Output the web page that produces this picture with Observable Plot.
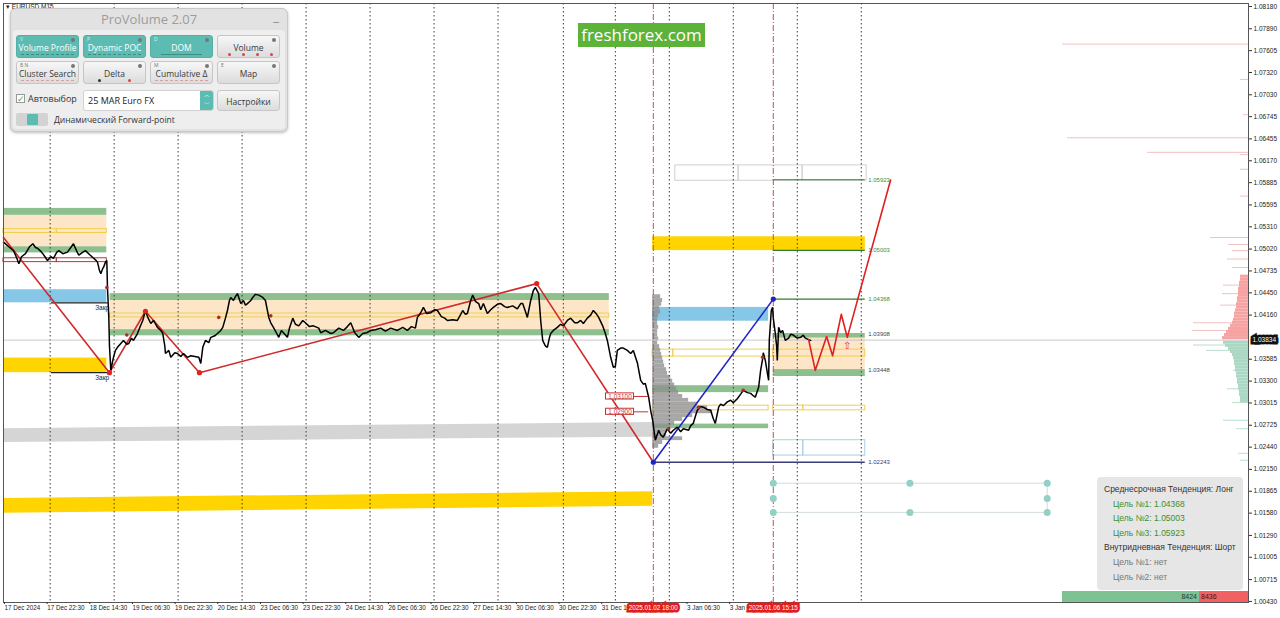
<!DOCTYPE html>
<html>
<head>
<meta charset="utf-8">
<script src="https://cdn.jsdelivr.net/npm/d3@7"></script>
<script src="https://cdn.jsdelivr.net/npm/@observablehq/plot@0.6"></script>
<style>
html,body{margin:0;padding:0;background:#fff;}
body{width:1280px;height:618px;overflow:hidden;font-family:"Liberation Sans",Arial,sans-serif;}
#wrap{position:relative;width:1280px;height:618px;}
#chart{position:absolute;left:0;top:0;}
#chart svg{display:block;}
.ov{position:absolute;box-sizing:border-box;}
#sym{left:6px;top:3px;font-size:6.5px;color:#222;white-space:nowrap;}
#logo{left:578px;top:23px;width:127px;height:24px;background:#5db23a;color:#fff;font:17px "Open Sans",sans-serif;text-align:center;line-height:24px;}
#pv{left:10px;top:8px;width:278px;height:124px;background:#e2e2e2;border:1px solid #c9c9c9;border-radius:6px;box-shadow:0 1px 3px rgba(0,0,0,.25);}
#pv .in{position:absolute;left:2px;top:21px;right:2px;bottom:2px;background:#eeeeee;border-radius:4px;}
#pv .ttl{position:absolute;left:0;right:0;top:1px;text-align:center;font:13px "Open Sans",sans-serif;color:#9c9c9c;}
#pv .min{position:absolute;right:8px;top:-2px;font:13px "Open Sans",sans-serif;color:#888;}
.b{position:absolute;width:63px;height:23px;border-radius:3px;font:8.5px "Open Sans",sans-serif;text-align:center;line-height:23px;color:#3a3a3a;background:linear-gradient(#f7f7f7,#dcdcdc);border:1px solid #c6c6c6;box-sizing:border-box;}
.b.t{background:#5cbcb2;color:#fff;border-color:#55afa5;}
.b .k{position:absolute;left:3px;top:0px;font-size:5px;line-height:6px;color:#777;}
.b.t .k{color:#d8f0ee;}
.b .g{position:absolute;right:3px;top:2px;width:4px;height:4px;border-radius:50%;background:#777;}
.b .u{position:absolute;left:4px;right:4px;bottom:2px;height:0;border-bottom:1px dashed #3f8c84;}
.b .ur{position:absolute;left:4px;right:4px;bottom:2px;height:0;border-bottom:1px dashed #d9a0a0;}
.b .d{position:absolute;bottom:1px;width:3px;height:3px;border-radius:50%;background:#d04a4a;}
#chk{left:5px;top:85px;width:9px;height:9px;background:#fff;border:1px solid #999;font-size:9px;line-height:8px;color:#3aa39a;text-align:center;}
#auto{left:17px;top:83px;font:9px "Open Sans",sans-serif;color:#333;}
#inp{left:72px;top:81px;width:131px;height:21px;background:#fff;border:1px solid #d2d2d2;border-radius:3px;font:9px "Open Sans",sans-serif;line-height:20px;padding-left:4px;color:#222;}
#spin{right:0;top:0;width:13px;height:19px;background:#5cbcb2;border-radius:0 2px 2px 0;color:#fff;font-size:6px;line-height:9px;text-align:center;}
#set{top:81px;left:206px;height:21px;line-height:21px;}
#tog{left:5px;top:104px;width:32px;height:13px;background:#d3d3d3;border-radius:2px;}
#tog div{position:absolute;left:11px;top:1px;width:11px;height:11px;background:#5cbcb2;border-radius:1px;}
#fwd{left:43px;top:104px;font:8.5px "Open Sans",sans-serif;color:#333;line-height:13px;}
#info{left:1097px;top:477px;width:146px;height:113px;background:#e6e6e6;border-radius:4px;font:8.5px "Liberation Sans",Arial,sans-serif;padding-top:5px;}
#info div{height:14.6px;line-height:14.6px;white-space:nowrap;}
#info .h{padding-left:7px;color:#333;}
#info .g{padding-left:16px;color:#3d8f2c;}
#info .n{padding-left:16px;color:#777;}
#ratio{left:1062px;top:591px;width:186px;height:11px;font:7px "Liberation Sans",Arial,sans-serif;line-height:11px;}
#ratio .gb{position:absolute;left:0;top:0;width:137px;height:11px;background:#7cc293;text-align:right;color:#333;padding-right:2px;box-sizing:border-box;}
#ratio .rb{position:absolute;left:137px;top:0;width:49px;height:11px;background:#f26161;color:#4a1212;padding-left:2px;box-sizing:border-box;}
</style>
</head>
<body>
<div id="wrap">
<div id="chart"></div>
<div class="ov" id="sym">▾ EURUSD,M15</div>
<div class="ov" id="logo">freshforex.com</div>
<div class="ov" id="pv">
  <div class="in"></div>
  <div class="ttl">ProVolume 2.07</div>
  <div class="min">_</div>
  <div class="b t" style="left:5px;top:26px"><span class="k">V</span><span class="g"></span>Volume Profile<span class="u"></span></div>
  <div class="b t" style="left:72px;top:26px"><span class="k">P</span><span class="g"></span>Dynamic POC<span class="u"></span></div>
  <div class="b t" style="left:139px;top:26px"><span class="k">D</span><span class="g"></span>DOM<span class="u" style="border-bottom-style:solid;left:10px;right:10px"></span></div>
  <div class="b" style="left:206px;top:26px"><span class="g"></span>Volume<span class="d" style="left:10px"></span><span class="d" style="left:24px"></span><span class="d" style="left:38px"></span><span class="d" style="left:52px"></span></div>
  <div class="b" style="left:5px;top:52px"><span class="k">B N</span><span class="g"></span>Cluster Search<span class="ur"></span></div>
  <div class="b" style="left:72px;top:52px"><span class="g"></span>Delta<span class="d" style="left:14px;background:#333"></span><span class="d" style="left:44px"></span></div>
  <div class="b" style="left:139px;top:52px"><span class="k">M</span><span class="g"></span>Cumulative Δ<span class="ur"></span></div>
  <div class="b" style="left:206px;top:52px"><span class="k">E</span><span class="g"></span>Map</div>
  <div class="ov" id="chk">✓</div>
  <div class="ov" id="auto">Автовыбор</div>
  <div class="ov" id="inp">25 MAR Euro FX<div class="ov" id="spin">︿<br>﹀</div></div>
  <div class="b" id="set">Настройки</div>
  <div class="ov" id="tog"><div></div></div>
  <div class="ov" id="fwd">Динамический Forward-point</div>
</div>
<div class="ov" id="info">
  <div class="h">Среднесрочная Тенденция: Лонг</div>
  <div class="g">Цель №1: 1.04368</div>
  <div class="g">Цель №2: 1.05003</div>
  <div class="g">Цель №3: 1.05923</div>
  <div class="h">Внутридневная Тенденция: Шорт</div>
  <div class="n">Цель №1: нет</div>
  <div class="n">Цель №2: нет</div>
</div>
<div class="ov" id="ratio"><div class="gb">8424</div><div class="rb">8436</div></div>
</div>
<script>
// ---------- time axis (M15 bar index) ----------
const xTickBars = [0,64,128,192,256,320,384,448,512,576,640,704,768,832,896,1024,1088];
const xTickLabels = ["17 Dec 2024","17 Dec 22:30","18 Dec 14:30","19 Dec 06:30","19 Dec 22:30","20 Dec 14:30","23 Dec 06:30","23 Dec 22:30","24 Dec 14:30","26 Dec 06:30","26 Dec 22:30","27 Dec 14:30","30 Dec 06:30","30 Dec 22:30","31 Dec 1","3 Jan 06:30","3 Jan"];
const dayBars = [70,166,262,358,454,550,646,742,840,918,999,1095,1191,1287];
const eventBars = [975,1155];
const eventLabels = ["2025.01.02 18:00","2025.01.06 15:15"];
// ---------- price axis ----------
const yTicks = [1.08180,1.07890,1.07605,1.07320,1.07030,1.06745,1.06455,1.06170,1.05885,1.05595,1.05310,1.05020,1.04735,1.04450,1.04160,1.03585,1.03300,1.03015,1.02725,1.02440,1.02150,1.01865,1.01580,1.01290,1.01005,1.00715,1.00430];
const lastPrice = 1.03834;
// ---------- EURUSD M15 close path [bar, price] ----------
const priceSeries = [
[0,1.0511],[8,1.0505],[15,1.0500],[20,1.0490],[23,1.0483],[27,1.0492],[33,1.0496],[39,1.0505],[44,1.0509],[48,1.0504],
[51,1.0503],[56,1.0499],[59,1.0496],[63,1.0491],[66,1.0487],[71,1.0492],[75,1.0490],[80,1.0498],[83,1.0500],[89,1.0496],
[96,1.0498],[101,1.0504],[105,1.0509],[110,1.0499],[113,1.0494],[119,1.0498],[123,1.0500],[129,1.0495],[134,1.0491],[138,1.0488],
[141,1.0485],[144,1.0474],[146,1.0470],[149,1.0477],[150,1.0478],[153,1.0485],[155,1.0487],[156,1.0452],[158,1.0413],[159,1.0376],[161,1.0344],
[164,1.0357],[165,1.0361],[168,1.0370],[171,1.0374],[176,1.0379],[180,1.0383],[185,1.0378],[188,1.0379],[192,1.0386],[195,1.0383],
[201,1.0392],[206,1.0403],[209,1.0409],[213,1.0422],[216,1.0414],[221,1.0405],[225,1.0409],[231,1.0400],[236,1.0396],[239,1.0392],
[242,1.0376],[243,1.0366],[248,1.0370],[251,1.0361],[257,1.0367],[261,1.0366],[266,1.0362],[270,1.0366],[276,1.0361],[281,1.0363],
[287,1.0362],[293,1.0361],[296,1.0353],[299,1.0374],[303,1.0383],[308,1.0380],[311,1.0387],[317,1.0389],[321,1.0392],[326,1.0396],
[329,1.0400],[333,1.0412],[336,1.0422],[339,1.0435],[341,1.0439],[345,1.0435],[348,1.0440],[351,1.0444],[356,1.0431],[360,1.0435],
[363,1.0429],[366,1.0431],[371,1.0435],[374,1.0439],[378,1.0443],[383,1.0442],[389,1.0439],[393,1.0435],[398,1.0413],[401,1.0406],
[405,1.0400],[410,1.0392],[413,1.0387],[417,1.0396],[420,1.0393],[426,1.0387],[429,1.0399],[434,1.0412],[438,1.0404],[443,1.0402],
[449,1.0409],[453,1.0406],[459,1.0401],[465,1.0402],[473,1.0399],[476,1.0393],[483,1.0396],[491,1.0392],[495,1.0393],[503,1.0399],
[510,1.0396],[516,1.0401],[521,1.0406],[527,1.0393],[533,1.0387],[539,1.0392],[545,1.0393],[551,1.0396],[558,1.0397],[566,1.0399],
[573,1.0395],[581,1.0399],[591,1.0396],[599,1.0400],[606,1.0396],[612,1.0401],[618,1.0399],[621,1.0413],[626,1.0419],[630,1.0426],
[635,1.0418],[641,1.0419],[647,1.0423],[651,1.0422],[657,1.0414],[662,1.0412],[666,1.0409],[674,1.0410],[681,1.0409],[686,1.0417],
[689,1.0422],[693,1.0417],[696,1.0418],[701,1.0435],[704,1.0442],[708,1.0434],[713,1.0431],[716,1.0423],[720,1.0431],[726,1.0418],
[731,1.0423],[735,1.0426],[741,1.0430],[746,1.0431],[752,1.0427],[756,1.0426],[764,1.0428],[771,1.0424],[776,1.0431],[779,1.0431],
[783,1.0421],[786,1.0413],[791,1.0435],[795,1.0448],[798,1.0452],[803,1.0444],[806,1.0409],[809,1.0383],[813,1.0376],[816,1.0374],
[819,1.0386],[821,1.0392],[825,1.0396],[831,1.0400],[836,1.0404],[840,1.0402],[846,1.0409],[851,1.0412],[857,1.0406],[861,1.0406],
[866,1.0409],[870,1.0405],[876,1.0412],[881,1.0416],[885,1.0422],[890,1.0417],[893,1.0413],[899,1.0402],[903,1.0392],[906,1.0383],
[911,1.0361],[915,1.0348],[918,1.0349],[921,1.0370],[926,1.0373],[930,1.0373],[936,1.0370],[941,1.0366],[945,1.0370],[951,1.0354],
[956,1.0331],[960,1.0326],[963,1.0327],[968,1.0309],[971,1.0292],[974,1.0279],[978,1.0253],[983,1.0266],[986,1.0260],[990,1.0257],
[996,1.0268],[1001,1.0262],[1005,1.0266],[1011,1.0270],[1016,1.0264],[1020,1.0268],[1028,1.0266],[1031,1.0272],[1035,1.0275],[1038,1.0284],
[1041,1.0292],[1046,1.0297],[1050,1.0296],[1056,1.0293],[1061,1.0292],[1065,1.0281],[1068,1.0275],[1073,1.0296],[1076,1.0300],[1080,1.0298],
[1086,1.0303],[1091,1.0305],[1095,1.0302],[1101,1.0307],[1106,1.0313],[1110,1.0318],[1116,1.0315],[1121,1.0314],[1125,1.0311],[1128,1.0309],
[1133,1.0322],[1136,1.0344],[1139,1.0359],[1140,1.0367],[1143,1.0357],[1146,1.0341],[1148,1.0331],[1149,1.0383],[1151,1.0409],[1152,1.0422],
[1154,1.0426],[1155,1.0412],[1158,1.0392],[1160,1.0376],[1161,1.0357],[1163,1.0400],[1166,1.0393],[1169,1.0396],[1173,1.0383],[1178,1.0386],
[1181,1.0391],[1185,1.0390],[1191,1.0386],[1196,1.0387],[1200,1.0390],[1203,1.0386],[1208,1.0384],[1211,1.0383]
];
// ---------- swing lines ----------
const redZigzag = [[0,1.0517],[159,1.0341],[213,1.0421],[294,1.0341],[800,1.0457],[975,1.02243]];
const blueLeg = [[975,1.02243],[1155,1.04368]];
const forecastPath = [[1208,1.0384],[1218,1.0344],[1235,1.0388],[1244,1.0363],[1257,1.0417],[1266,1.0387],[1331,1.0592]];
const tradeMarks = [[155,1.0452],[185,1.0390],[323,1.0413],[401,1.0415],[998,1.0268],[1043,1.0296],[1110,1.0318],[1139,1.0361]];
const arrowMark = [[1266,1.0376]];
// ---------- zones [fromBar, toBar, low, high] ----------
const beigeZones = [[0,155,1.0505,1.0546],[160,909,1.0397,1.0435],[1155,1293,1.0345,1.0386]];
const greenZones = [[0,155,1.0546,1.0555],[0,155,1.0497,1.0505],[160,909,1.0435,1.0444],[160,909,1.0389,1.0397],[974,1148,1.0315,1.0324],[974,1148,1.0268,1.0274],[1155,1293,1.0386,1.0392],[1155,1293,1.0336,1.0345]];
const goldZones = [[0,155,1.0341,1.0360],[974,1293,1.0500,1.0518]];
const skyZones = [[0,155,1.0432,1.0449],[974,1148,1.0408,1.0426]];
const yellowBoxes = [[0,80,1.0523,1.0528],[80,155,1.0523,1.0528],[160,909,1.0413,1.0418],[974,1005,1.0362,1.0371],[1005,1155,1.0362,1.0371],[1155,1293,1.0362,1.0371],[974,1148,1.0292,1.0298],[1155,1200,1.0292,1.0298],[1200,1293,1.0292,1.0298]];
const redBoxes = [[0,80,1.0485,1.0490],[80,155,1.0485,1.0490]];
const blueBoxes = [[1155,1200,1.0233,1.0253],[1200,1293,1.0233,1.0253]];
const grayBoxes = [[1008,1103,1.0591,1.0611],[1103,1199,1.0591,1.0611],[1199,1295,1.0591,1.0611]];
const grayBand = [[0,1.0250,1.0268],[974,1.0257,1.0276]];
const goldBand = [[0,1.0158,1.0177],[974,1.0167,1.0186]];
const closeLevels = [1.0432,1.0341];
// ---------- targets ----------
const targetPrices = [1.05923,1.05003,1.04368];
const levelPrices = [1.03908,1.03448];
const lowPrice = 1.02243;
const hLevels = ["1.03100","1.02900"];
// ---------- volume profiles [price, volume] ----------
const vpLeft = [[1.0440,8],[1.0435,10],[1.0430,9],[1.0425,7],[1.0420,8],[1.0415,6],[1.0410,5],[1.0405,5],[1.0400,6],[1.0395,5],
[1.0390,5],[1.0385,6],[1.0380,5],[1.0375,7],[1.0370,8],[1.0365,9],[1.0360,10],[1.0355,11],[1.0350,12],[1.0345,14],
[1.0340,15],[1.0335,18],[1.0330,20],[1.0325,22],[1.0320,24],[1.0315,26],[1.0310,30],[1.0305,36],[1.0300,45],[1.0295,55],
[1.0290,60],[1.0285,40],[1.0280,30],[1.0275,22],[1.0270,18],[1.0265,15],[1.0260,14],[1.0255,30],[1.0250,10],[1.0245,6]];
const vpAsk = [[1.0466,8],[1.0462,8],[1.0458,9],[1.0454,9],[1.0450,10],[1.0446,10],[1.0442,10],[1.0438,11],[1.0434,11],[1.0430,12],
[1.0426,12],[1.0422,13],[1.0418,14],[1.0414,14],[1.0410,15],[1.0406,16],[1.0402,18],[1.0398,20],[1.0394,22],[1.0390,24],[1.0386,26]];
const vpBid = [[1.0380,25],[1.0376,23],[1.0372,20],[1.0368,18],[1.0364,16],[1.0360,15],[1.0356,14],[1.0352,14],[1.0348,13],[1.0344,13],
[1.0340,12],[1.0336,12],[1.0332,11],[1.0328,11],[1.0324,10],[1.0320,10],[1.0316,9],[1.0312,9],[1.0308,8],[1.0304,8]];
const vpAskSpikes = [[1.0769,186],[1.0723,8],[1.0677,5],[1.0647,181],[1.0628,101],[1.0625,8],[1.0606,8],[1.0571,8],[1.0517,38],[1.0508,20],
[1.0500,16],[1.0489,21],[1.0478,16],[1.0455,25],[1.0444,26],[1.0429,28],[1.0406,55],[1.0396,56]];
const vpBidSpikes = [[1.0377,55],[1.0370,42],[1.0344,15],[1.0320,21],[1.0302,16],[1.0279,25],[1.0268,12],[1.0236,10],[1.0227,8]];
// ---------- dots widget ----------
const widgetBars = [1155,1360,1566];
const widgetPrices = [1.0197,1.0177,1.0159];

// ===== build =====
const X0 = 0, X1 = 1868;
const volToBars = 1.5;
const box = a => a.map(([x1,x2,y1,y2]) => ({x1,x2,y1,y2}));
const pts = a => a.map(([x,y]) => ({x,y}));
const rectOpts = (o) => Object.assign({x1:"x1",x2:"x2",y1:"y1",y2:"y2"}, o);
const tickLabel = new Map(xTickBars.map((b,i)=>[b,xTickLabels[i]]));
const vpLeftStart = eventBars[0] - 1;
const vpLeftRows = vpLeft.map(([p,v]) => ({x1:vpLeftStart, x2:vpLeftStart+v*volToBars, y1:p-0.00025, y2:p+0.00025, v}));
const vpAskRows = vpAsk.map(([p,v]) => ({x1:X1-v*volToBars, x2:X1, y1:p-0.0002, y2:p+0.0002}));
const vpBidRows = vpBid.map(([p,v]) => ({x1:X1-v*volToBars, x2:X1, y1:p-0.0002, y2:p+0.0002}));
const spikeRows = a => a.map(([p,v]) => ({x1:X1-v*volToBars, x2:X1, y:p}));
const widgetDots = [];
widgetBars.forEach((b,i)=>widgetPrices.forEach((p,j)=>{ if(!(i===1&&j===1)) widgetDots.push({x:b,y:p}); }));
const targetEnd = 1293, targetStart = eventBars[1];
const targets = targetPrices.map(p=>({p}));
const levels = levelPrices.map(p=>({p}));

const chart = Plot.plot({
  width: 1280, height: 618,
  marginLeft: 3, marginRight: 32, marginTop: 3, marginBottom: 16,
  style: {fontFamily: "'Liberation Sans', Arial, sans-serif", background: "#fff", overflow: "visible"},
  x: {domain: [X0, X1], axis: null},
  y: {domain: [1.00416, 1.08219], axis: null},
  marks: [
    // zones
    Plot.areaY(grayBand.map(([x,y1,y2])=>({x,y1,y2})), {x:"x", y1:"y1", y2:"y2", fill:"#d5d5d5"}),
    Plot.areaY(goldBand.map(([x,y1,y2])=>({x,y1,y2})), {x:"x", y1:"y1", y2:"y2", fill:"#ffd400"}),
    Plot.rect(box(beigeZones), rectOpts({fill:"#fde6c8"})),
    Plot.rect(box(greenZones), rectOpts({fill:"#8dbf8f"})),
    Plot.rect(box(goldZones), rectOpts({fill:"#ffd400"})),
    Plot.rect(box(skyZones), rectOpts({fill:"#86c6e6"})),
    Plot.rect(box(yellowBoxes), rectOpts({fill:"none", stroke:"#f0cf4e", strokeWidth:1})),
    Plot.rect(box(redBoxes), rectOpts({fill:"none", stroke:"#b23a3a", strokeWidth:1})),
    Plot.rect(box(blueBoxes), rectOpts({fill:"none", stroke:"#a9cfe0", strokeWidth:1})),
    Plot.rect(box(grayBoxes), rectOpts({fill:"none", stroke:"#d0d0d0", strokeWidth:1})),
    // left volume profile
    Plot.rect(vpLeftRows, rectOpts({fill:"#8e8e8e", fillOpacity:0.78})),
    // right volume profile
    Plot.ruleY(spikeRows(vpAskSpikes), {y:"y", x1:"x1", x2:"x2", stroke:"#f1c2c2", strokeWidth:1}),
    Plot.ruleY(spikeRows(vpBidSpikes), {y:"y", x1:"x1", x2:"x2", stroke:"#b9dfcd", strokeWidth:1}),
    Plot.rect(vpAskRows, rectOpts({fill:"#f8a3a3"})),
    Plot.rect(vpBidRows, rectOpts({fill:"#abd8c4"})),
    // day separators
    Plot.ruleX(dayBars, {stroke:"#3a3a3a", strokeWidth:1, strokeDasharray:"1.5,2.5"}),
    Plot.ruleX(eventBars, {stroke:"#c45050", strokeWidth:1, strokeDasharray:"6,2,1,2"}),
    // last price line
    Plot.ruleY([lastPrice], {stroke:"#c9c9c9", strokeWidth:1}),
    // close lines
    Plot.ruleY(closeLevels, {x1:72, x2:157, stroke:"#222", strokeWidth:1.2}),
    Plot.text(closeLevels, {y:d=>d, x:148, text:()=>"Закр", dy:5, fontSize:6.5, fill:"#222", textAnchor:"middle"}),
    // targets
    Plot.ruleY(targets, {y:"p", x1:targetStart, x2:targetEnd, stroke:"#2f7d2f", strokeWidth:1.2}),
    Plot.text(targets, {y:"p", x:targetEnd, dx:3, text:d=>d.p.toFixed(5), fontSize:6, fill:"#3d8f2c", textAnchor:"start"}),
    Plot.text(levels, {y:"p", x:targetEnd, dx:3, text:d=>d.p.toFixed(5), fontSize:6, fill:"#444", textAnchor:"start"}),
    Plot.ruleY([lowPrice], {x1:eventBars[0], x2:targetEnd, stroke:"#3b3b7a", strokeWidth:1.5}),
    Plot.text([lowPrice], {y:d=>d, x:targetEnd, dx:3, text:d=>d.toFixed(5), fontSize:6, fill:"#3b3b7a", textAnchor:"start"}),
    // dots widget
    Plot.ruleY([widgetPrices[0], widgetPrices[2]], {x1:widgetBars[0], x2:widgetBars[2], stroke:"#d3dcdc", strokeWidth:1}),
    Plot.ruleX([widgetBars[2]], {y1:widgetPrices[2], y2:widgetPrices[0], stroke:"#d3dcdc", strokeWidth:1}),
    Plot.dot(widgetDots, {x:"x", y:"y", r:3.5, fill:"#93d1c7", stroke:"none"}),
    // swings
    Plot.line(pts(redZigzag), {x:"x", y:"y", stroke:"#d02a2a", strokeWidth:1.6}),
    Plot.line(pts(blueLeg), {x:"x", y:"y", stroke:"#1f24c8", strokeWidth:1.6}),
    // price
    Plot.line(pts(priceSeries), {x:"x", y:"y", stroke:"#000", strokeWidth:1.5, strokeLinejoin:"miter"}),
    Plot.dot(pts(tradeMarks), {x:"x", y:"y", r:1.8, fill:"#b02a2a"}),
    Plot.dot(pts(redZigzag.slice(1,5)), {x:"x", y:"y", r:2.6, fill:"#e02424"}),
    Plot.dot(pts(blueLeg), {x:"x", y:"y", r:2.6, fill:"#1f24c8"}),
    Plot.line(pts(forecastPath), {x:"x", y:"y", stroke:"#e01f1f", strokeWidth:1.6}),
    Plot.text(pts(arrowMark), {x:"x", y:"y", text:()=>"⇧", fontSize:10, fill:"#e03030"}),
    // horizontal level labels
    Plot.ruleY(hLevels.map(Number), {x1:945, x2:968, stroke:"#c83232", strokeWidth:1}),
    Plot.rect(hLevels.map(Number), {x1:904, x2:946, y1:d=>d-0.0004, y2:d=>d+0.0004, fill:"#fff", stroke:"#c83232", strokeWidth:1}),
    Plot.text(hLevels, {x:925, y:d=>+d, text:d=>d, fontSize:6.5, fill:"#c83232"}),
    // frame & axes
    Plot.frame({stroke:"#555", strokeWidth:1}),
    Plot.axisY({ticks:yTicks, anchor:"right", tickSize:3, tickPadding:2, tickFormat:d=>d.toFixed(5), fontSize:6.5, fill:"#222", stroke:"#333"}),
    Plot.axisX({ticks:xTickBars, anchor:"bottom", tickSize:2, tickPadding:1, tickFormat:d=>tickLabel.get(d), textAnchor:"start", dx:1, fontSize:6.3, fill:"#222", stroke:"#333"}),
    Plot.text([lastPrice], {y:d=>d, frameAnchor:"right", dx:4, textAnchor:"start", text:d=>d.toFixed(5), fill:"#fff", stroke:"#111", strokeWidth:5, strokeLinejoin:"miter", fontSize:6.5}),
    Plot.text(eventBars, {x:d=>d, frameAnchor:"bottom", dy:7, text:(d,i)=>eventLabels[i], fill:"#fff", stroke:"#e21d1d", strokeWidth:5, strokeLinejoin:"miter", fontSize:6.3, textAnchor:"middle"})
  ]
});
document.getElementById("chart").appendChild(chart);
</script>
</body>
</html>
